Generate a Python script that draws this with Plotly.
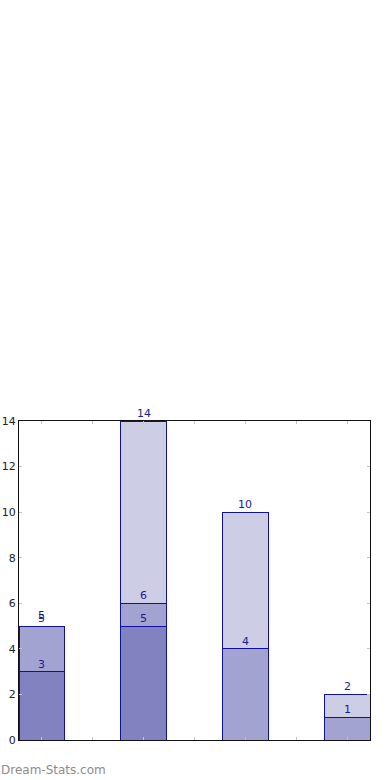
import plotly.graph_objects as go

categories = [0, 1, 2, 3]
series_dark = [3, 5, 0, 0]
series_medium = [2, 1, 4, 1]
series_light = [0, 8, 6, 1]
y_ticks = [0, 2, 4, 6, 8, 10, 12, 14]

fills = ["#8282c1", "#a3a3d1", "#cdcde6"]
edge = "#10109a"
label_color = "#1b1b8f"

fig = go.Figure()
series = [series_dark, series_medium, series_light]
for vals, col in zip(series, fills):
    fig.add_trace(go.Bar(
        x=categories, y=vals, width=0.45,
        marker=dict(color=col, line=dict(color=edge, width=1)),
        hoverinfo="skip", showlegend=False))

# cumulative labels at top of each segment
cum = [0] * len(categories)
for si, vals in enumerate(series):
    for i, v in enumerate(vals):
        cum[i] += v
        if cum[i] > 0:
            fig.add_annotation(
                x=categories[i], y=cum[i], xref="x", yref="y",
                text=str(cum[i]), showarrow=False, yanchor="bottom",
                yshift=(2 if (si == 2 and v == 0) else -1),
                font=dict(family="DejaVu Sans", size=11, color=label_color))

fig.add_annotation(
    xref="paper", yref="paper", x=-0.057, y=-0.094, xanchor="left", yanchor="middle",
    text="Dream-Stats.com", showarrow=False,
    font=dict(family="DejaVu Sans", size=12, color="#8c8c8c"))

fig.update_layout(
    barmode="stack", width=390, height=780,
    margin=dict(l=19, r=20, t=421, b=40, autoexpand=False),
    paper_bgcolor="white", plot_bgcolor="white",
    font=dict(family="DejaVu Sans", size=11, color="#222222"),
    xaxis=dict(range=[-0.225, 3.225], tickvals=[0, 0.5, 1, 1.5, 2, 2.5, 3],
               showticklabels=False, ticks="inside", ticklen=3, tickwidth=1,
               tickcolor="#c4c4c4", showgrid=False, zeroline=False, automargin=False,
               showline=True, linecolor="#111111", linewidth=1, mirror="allticks"),
    yaxis=dict(range=[0, 14], tickvals=y_ticks, ticks="inside", ticklen=3,
               tickwidth=1, tickcolor="#c4c4c4", showgrid=False, zeroline=False,
               automargin=False,
               showline=True, linecolor="#111111", linewidth=1, mirror="allticks",
               tickfont=dict(family="DejaVu Sans", size=11, color="#222222")),
)

fig.write_html("out.html", config={"displayModeBar": False},
               post_script="document.body.style.margin='0';")
